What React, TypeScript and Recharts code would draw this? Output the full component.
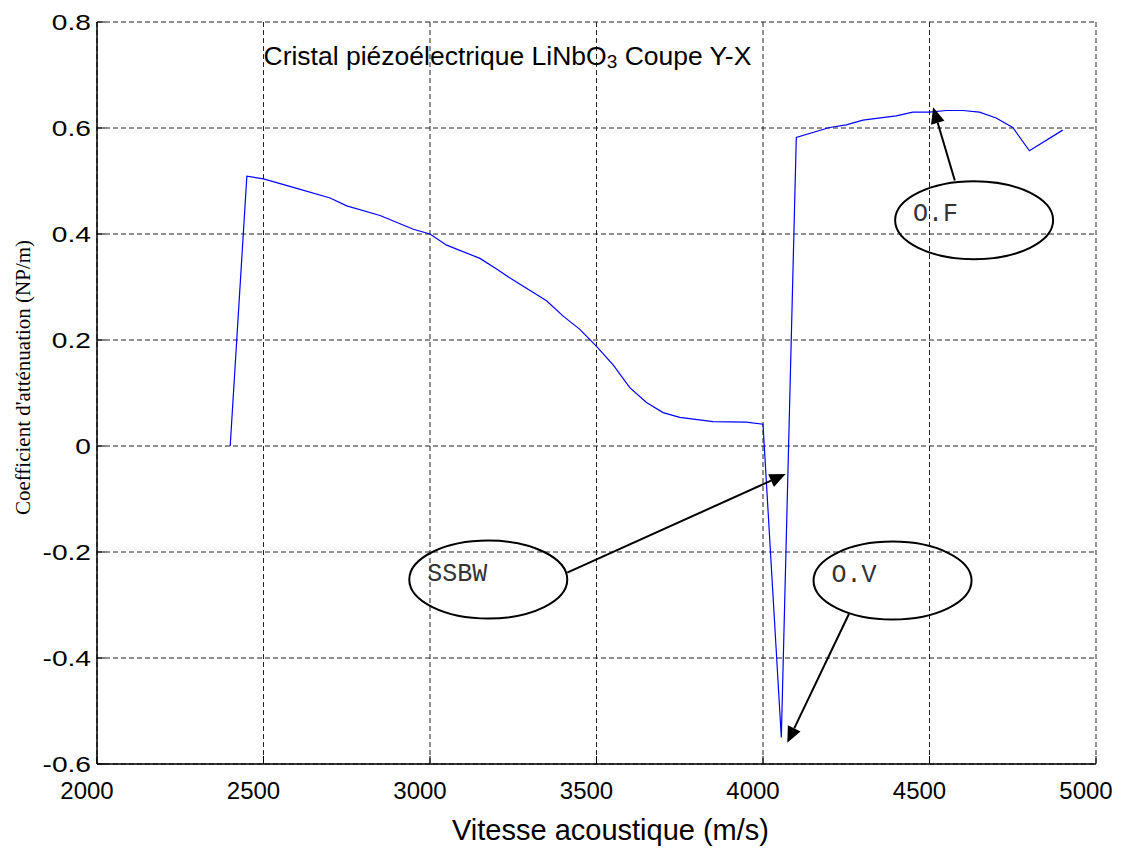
import { LineChart, Line, XAxis, YAxis, CartesianGrid, ReferenceLine, ReferenceDot } from 'recharts';

// Vitesse acoustique (m/s) et coefficient d'atténuation (NP/m)
const vitesse = [
  2400, 2450, 2500, 2600, 2700, 2750, 2850, 2950, 3000, 3050, 3150, 3200, 3250, 3350, 3400, 3450,
  3500, 3550, 3600, 3650, 3700, 3750, 3850, 3950, 4000, 4055, 4100, 4200, 4250, 4300, 4400, 4450,
  4500, 4550, 4600, 4650, 4700, 4750, 4800, 4900,
];
const attenuation = [
  0, 0.509, 0.504, 0.486, 0.468, 0.453, 0.435, 0.409, 0.4, 0.379, 0.354, 0.334, 0.313, 0.274, 0.245, 0.22,
  0.188, 0.153, 0.11, 0.082, 0.063, 0.054, 0.046, 0.045, 0.041, -0.55, 0.582, 0.601, 0.606, 0.615, 0.623, 0.63,
  0.63, 0.633, 0.633, 0.63, 0.619, 0.601, 0.557, 0.596,
];

const xTicks = [2000, 2500, 3000, 3500, 4000, 4500, 5000];
const yTicks = [-0.6, -0.4, -0.2, 0, 0.2, 0.4, 0.6, 0.8];

const titre = 'Cristal piézoélectrique LiNbO';
const titreFin = 'Coupe Y-X';
const titreX = 'Vitesse acoustique (m/s)';
const titreY = "Coefficient d'atténuation (NP/m)";

// bulles d'annotation : centre de l'ellipse, départ et pointe de la flèche
const bulleLabels = ['SSBW', 'O.V', 'O.F'];
const bulleX = [3175, 4389, 4634];
const bulleY = [-0.252, -0.254, 0.426];
const flecheDepart = [
  { x: 3412, y: -0.239 },
  { x: 4258, y: -0.317 },
  { x: 4576, y: 0.501 },
];
const flechePointe = [
  { x: 4068, y: -0.053 },
  { x: 4073, y: -0.56 },
  { x: 4511, y: 0.639 },
];

const data = vitesse.map((v, i) => ({ v, a: attenuation[i] }));

const SANS = "Arial, 'Liberation Sans', Helvetica, sans-serif";
const SERIF = "'Times New Roman', 'Liberation Serif', serif";
const MONO = "'Courier New', 'Liberation Mono', monospace";

const fmtY = (v: number) => (v === 0 ? '0' : v.toFixed(1));

function YTick({ x, y, payload }: any) {
  return (
    <text transform={`translate(${x},${y}) scale(1.28,1)`} textAnchor="end" dy="0.36em" fontFamily={SANS} fontSize={22} fill="#000">
      {fmtY(payload.value)}
    </text>
  );
}

function XTick({ x, y, payload }: any) {
  return (
    <text x={x - 10} y={y} textAnchor="middle" dy="0.36em" fontFamily={SANS} fontSize={24} fill="#000">
      {payload.value}
    </text>
  );
}

const noTick = () => <g />;

function Fleche({ x1, y1, x2, y2 }: any) {
  const ang = Math.atan2(y2 - y1, x2 - x1);
  const L = 16;
  const W = 7;
  const c = Math.cos(ang);
  const s = Math.sin(ang);
  const bx = x2 - L * c;
  const by = y2 - L * s;
  const pts = `${x2},${y2} ${bx + W * s},${by - W * c} ${bx - W * s},${by + W * c}`;
  return (
    <g>
      <line x1={x1} y1={y1} x2={bx} y2={by} stroke="#000" strokeWidth={2} />
      <polygon points={pts} fill="#000" />
    </g>
  );
}

const bulle = (label: string) => ({ cx, cy }: any) => (
  <g>
    <ellipse cx={cx} cy={cy} rx={79} ry={39} fill="none" stroke="#000" strokeWidth={2} />
    <text x={cx - 61} y={cy + 1} fontFamily={MONO} fontSize={25} fill="#333">
      {label}
    </text>
  </g>
);

const Titre = ({ cx, cy }: any) => (
  <text x={cx} y={cy} fontFamily={SANS} fontSize={26.5} fill="#000">
    {titre}
    <tspan fontSize={19} dy={3}>3</tspan>
    <tspan dy={-3}> {titreFin}</tspan>
  </text>
);

export default function App() {
  return (
    <LineChart width={1115} height={844} data={data} margin={{ top: 14, right: 27, bottom: 0, left: 0 }}>
      <CartesianGrid stroke="#222" strokeDasharray="5 3" strokeWidth={1} />
      <XAxis
        dataKey="v"
        type="number"
        domain={[2000, 5000]}
        ticks={xTicks}
        allowDataOverflow
        height={88}
        axisLine={{ stroke: '#000', strokeWidth: 1.5 }}
        tickLine={{ stroke: '#000' }}
        tickSize={-8}
        tickMargin={34}
        tick={<XTick />}
        label={{
          content: ({ viewBox }: any) => (
            <text x={viewBox.x + viewBox.width / 2 + 14} y={832} textAnchor="middle" fontFamily={SANS} fontSize={29} fill="#000">
              {titreX}
            </text>
          ),
        }}
      />
      <XAxis
        xAxisId="top"
        orientation="top"
        type="number"
        domain={[2000, 5000]}
        ticks={xTicks}
        height={0}
        axisLine={{ stroke: '#000', strokeWidth: 1.5 }}
        tickLine={{ stroke: '#000' }}
        tickSize={-8}
        tick={noTick}
      />
      <YAxis
        type="number"
        domain={[-0.6, 0.8]}
        ticks={yTicks}
        allowDataOverflow
        width={89}
        axisLine={{ stroke: '#000', strokeWidth: 1.5 }}
        tickLine={{ stroke: '#000' }}
        tickSize={-8}
        tickMargin={14}
        tick={<YTick />}
        label={{
          content: ({ viewBox }: any) => (
            <text
              transform={`translate(14.5, ${viewBox.y + viewBox.height / 2 - 15.5}) rotate(-90)`}
              textAnchor="middle"
              dominantBaseline="central"
              fontFamily={SERIF}
              fontSize={21}
              fill="#000"
            >
              {titreY}
            </text>
          ),
        }}
      />
      <YAxis
        yAxisId="right"
        orientation="right"
        type="number"
        domain={[-0.6, 0.8]}
        ticks={yTicks}
        width={0}
        axisLine={{ stroke: '#000', strokeWidth: 1.5 }}
        tickLine={{ stroke: '#000' }}
        tickSize={-8}
        tick={noTick}
      />
      <Line type="linear" dataKey="a" stroke="#0000ff" strokeWidth={1.2} dot={false} isAnimationActive={false} />
      <ReferenceDot x={2500} y={0.719} ifOverflow="visible" shape={<Titre />} />
      {bulleLabels.map((lab, i) => (
        <ReferenceDot key={lab} x={bulleX[i]} y={bulleY[i]} ifOverflow="visible" shape={bulle(lab)} />
      ))}
      {bulleLabels.map((lab, i) => (
        <ReferenceLine
          key={`f-${lab}`}
          segment={[flecheDepart[i], flechePointe[i]]}
          ifOverflow="visible"
          shape={(p: any) => <Fleche {...p} />}
        />
      ))}
    </LineChart>
  );
}
